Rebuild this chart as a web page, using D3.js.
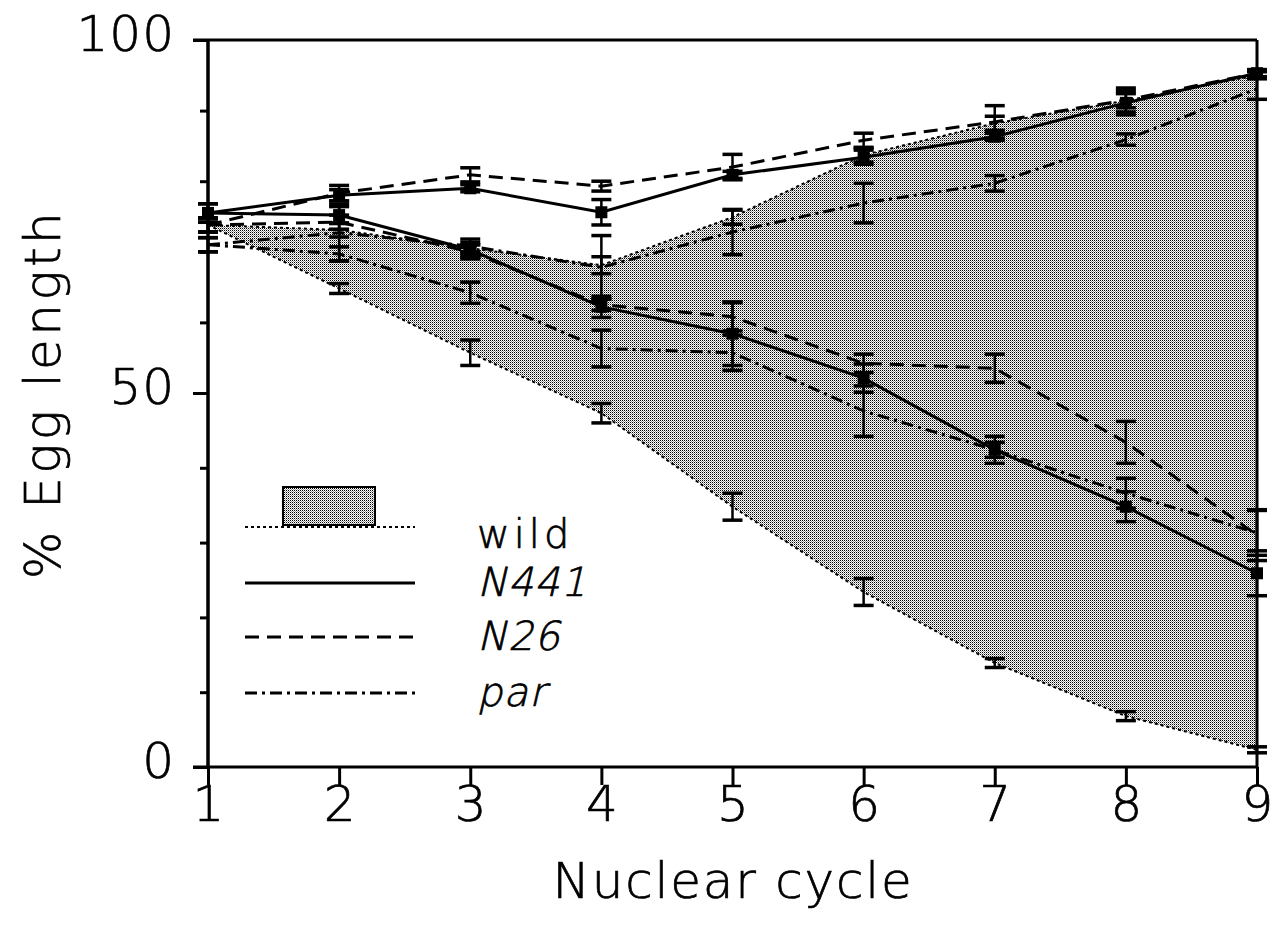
<!DOCTYPE html>
<html>
<head>
<meta charset="utf-8">
<script src="https://cdn.jsdelivr.net/npm/d3@7"></script>
<style>
  html, body { margin: 0; padding: 0; background: #fff; }
  svg { display: block; }
  text { font-family: "DejaVu Sans", "Liberation Sans", sans-serif; font-weight: 200; fill: #000; stroke: #000; stroke-width: 0.7px; }
</style>
</head>
<body>
<svg id="chart" width="1278" height="936"></svg>
<script>
// ---------------- data ----------------
const cycles = [1, 2, 3, 4, 5, 6, 7, 8, 9];

const wildUpper    = [73.8, 73.1, 70.5, 68.1, 74.9, 83.7, 88.2, 91.4, 95.0];
const wildUpperErr = [1.0, 1.0, 0.5, 1.2, 1.0, 1.0, 1.0, 1.0, 0.5];
const wildLower    = [73.8, 64.8, 55.7, 47.3, 34.8, 23.4, 13.9, 6.8, 2.3];
const wildLowerErr = [1.0, 0.7, 1.8, 1.3, 1.8, 1.8, 0.6, 0.6, 0.4];

const n441Upper    = [75.5, 78.0, 79.0, 75.6, 80.9, 83.4, 86.3, 91.1, 95.3];
const n441UpperErr = [1.3, 0.8, 0.5, 1.8, 0.5, 1.0, 0.5, 1.7, 0.5];
const n441Lower    = [75.5, 75.2, 70.3, 62.2, 58.4, 52.1, 42.4, 34.8, 25.9];
const n441LowerErr = [1.3, 1.2, 1.0, 1.5, 4.5, 2.0, 1.8, 2.0, 3.0];

const n26Upper     = [73.8, 78.3, 80.9, 79.3, 82.0, 85.8, 88.4, 91.5, 95.3];
const n26UpperErr  = [1.0, 1.1, 1.0, 0.7, 1.8, 1.0, 2.3, 1.7, 0.5];
const n26Lower     = [73.8, 74.2, 70.0, 62.5, 60.8, 54.2, 53.5, 43.4, 31.0];
const n26LowerErr  = [1.0, 1.0, 1.0, 0.8, 2.0, 1.3, 2.0, 2.8, 3.4];

const parUpper     = [71.0, 72.7, 70.8, 67.8, 72.8, 76.9, 79.7, 85.9, 93.1];
const parUpperErr  = [1.0, 4.0, 1.0, 4.5, 3.2, 2.8, 1.1, 0.8, 1.5];
const parLower     = [71.0, 69.7, 64.2, 56.3, 55.7, 47.6, 42.4, 36.6, 31.3];
const parLowerErr  = [1.0, 1.0, 1.5, 2.6, 2.5, 3.4, 1.0, 2.0, 3.0];

const yMajorTicks = [0, 50, 100];
const yMinorTicks = [0, 10, 20, 30, 40, 50, 60, 70, 80, 90, 100];
const xTicks = [1, 2, 3, 4, 5, 6, 7, 8, 9];
const legendLabels = ["wild", "N441", "N26", "par"];
const xTitle = "Nuclear cycle";
const yTitle = "% Egg length";

// ---------------- chart ----------------
const svg = d3.select("#chart");
const x = d3.scaleLinear().domain([1, 9]).range([208, 1257]);
const y = d3.scaleLinear().domain([0, 50, 100]).range([767, 393, 40]);

const defs = svg.append("defs");
const pat = defs.append("pattern").attr("id", "stip")
  .attr("width", 2).attr("height", 2).attr("patternUnits", "userSpaceOnUse");
pat.append("rect").attr("width", 2).attr("height", 2).attr("fill", "#fff");
pat.append("rect").attr("x", 0).attr("y", 0).attr("width", 1).attr("height", 1).attr("fill", "#000");
pat.append("rect").attr("x", 1).attr("y", 1).attr("width", 1).attr("height", 1).attr("fill", "#9a9a9a");

// shaded wild band
const band = cycles.map((c, i) => ({c, hi: wildUpper[i], lo: wildLower[i]}));
svg.append("path").datum(band)
  .attr("d", d3.area().x(d => x(d.c)).y0(d => y(d.lo)).y1(d => y(d.hi)))
  .attr("fill", "url(#stip)");

const styles = {
  wild: {dash: "3,3", w: 2},
  n441: {dash: null, w: 3},
  n26: {dash: "14,8", w: 3},
  par: {dash: "12,5,3,5", w: 3}
};

const line = d3.line().x(d => x(d.c)).y(d => y(d.v));
function drawSeries(vals, errs, st, squares) {
  const data = cycles.map((c, i) => ({c, v: vals[i], e: errs[i]}));
  svg.append("path").datum(data).attr("d", line)
    .attr("fill", "none").attr("stroke", "#000")
    .attr("stroke-width", st.w).attr("stroke-dasharray", st.dash);
  const g = svg.append("g");
  data.forEach(d => {
    g.append("line").attr("x1", x(d.c)).attr("x2", x(d.c))
      .attr("y1", y(d.v - d.e)).attr("y2", y(d.v + d.e))
      .attr("stroke", "#000").attr("stroke-width", 2.5);
    [d.v - d.e, d.v + d.e].forEach(v => {
      g.append("line").attr("x1", x(d.c) - 10).attr("x2", x(d.c) + 10)
        .attr("y1", y(v)).attr("y2", y(v))
        .attr("stroke", "#000").attr("stroke-width", 3.5);
    });
    if (squares) {
      g.append("rect").attr("x", x(d.c) - 6).attr("y", y(d.v) - 6)
        .attr("width", 12).attr("height", 12).attr("fill", "#000");
    }
  });
}

drawSeries(wildUpper, wildUpperErr, styles.wild, false);
drawSeries(wildLower, wildLowerErr, styles.wild, false);
drawSeries(parUpper, parUpperErr, styles.par, false);
drawSeries(parLower, parLowerErr, styles.par, false);
drawSeries(n26Upper, n26UpperErr, styles.n26, false);
drawSeries(n26Lower, n26LowerErr, styles.n26, false);
drawSeries(n441Upper, n441UpperErr, styles.n441, true);
drawSeries(n441Lower, n441LowerErr, styles.n441, true);

// frame: top and right lines
svg.append("line").attr("x1", 193).attr("x2", x(9)).attr("y1", y(100)).attr("y2", y(100))
  .attr("stroke", "#000").attr("stroke-width", 3);
svg.append("line").attr("x1", x(9)).attr("x2", x(9)).attr("y1", y(100)).attr("y2", y(0))
  .attr("stroke", "#000").attr("stroke-width", 3);

// y axis (minor ticks)
const yMinor = svg.append("g").attr("transform", `translate(${x(1)},0)`)
  .call(d3.axisLeft(y).tickValues(yMinorTicks).tickSize(8).tickFormat(""));
// y axis (major ticks with labels)
const yMajor = svg.append("g").attr("transform", `translate(${x(1)},0)`)
  .call(d3.axisLeft(y).tickValues(yMajorTicks).tickSize(15).tickPadding(18).tickFormat(d3.format("d")));
[yMinor, yMajor].forEach(g => {
  g.select(".domain").attr("stroke-width", 3).attr("d", `M0,${y(0) + 2}V${y(100)}`);
  g.selectAll(".tick line").attr("stroke-width", 3);
});
yMajor.selectAll(".tick text").attr("font-size", 50).attr("dy", "0.2em")
  .attr("font-family", null).attr("letter-spacing", 1);

// x axis
const xAxis = svg.append("g").attr("transform", `translate(0,${y(0)})`)
  .call(d3.axisBottom(x).tickValues(xTicks).tickSize(18).tickFormat(d3.format("d")));
xAxis.select(".domain").attr("stroke-width", 3).attr("d", `M193,0H${x(9)}`);
xAxis.selectAll(".tick line").attr("stroke-width", 3);
xAxis.selectAll(".tick text").attr("font-size", 50).attr("dy", null).attr("y", 54)
  .attr("font-family", null);

// titles
svg.append("text").attr("x", 733).attr("y", 898).attr("text-anchor", "middle")
  .attr("font-size", 50).attr("letter-spacing", 1.8).text(xTitle);
svg.append("text").attr("transform", "translate(60,394) rotate(-90)")
  .attr("text-anchor", "middle").attr("font-size", 50).attr("letter-spacing", 3.5).text(yTitle);

// legend
const legY = [527, 583, 637, 693];
const legStyles = [styles.wild, styles.n441, styles.n26, styles.par];
const leg = svg.append("g");
leg.append("rect").attr("x", 283).attr("y", 487).attr("width", 92).attr("height", 38)
  .attr("fill", "url(#stip)").attr("stroke", "#000").attr("stroke-width", 2);
legendLabels.forEach((lab, i) => {
  leg.append("line").attr("x1", 245).attr("x2", 415).attr("y1", legY[i]).attr("y2", legY[i])
    .attr("stroke", "#000").attr("stroke-width", legStyles[i].w)
    .attr("stroke-dasharray", legStyles[i].dash);
  const by = i === 0 ? 548 : legY[i] + 13;
  leg.append("text")
    .attr("transform", i === 0 ? `translate(477,${by})` : `translate(477,${by}) skewX(-13)`)
    .attr("font-size", 40)
    .attr("letter-spacing", i === 0 ? 4 : 1)
    .text(lab);
});
</script>
</body>
</html>
